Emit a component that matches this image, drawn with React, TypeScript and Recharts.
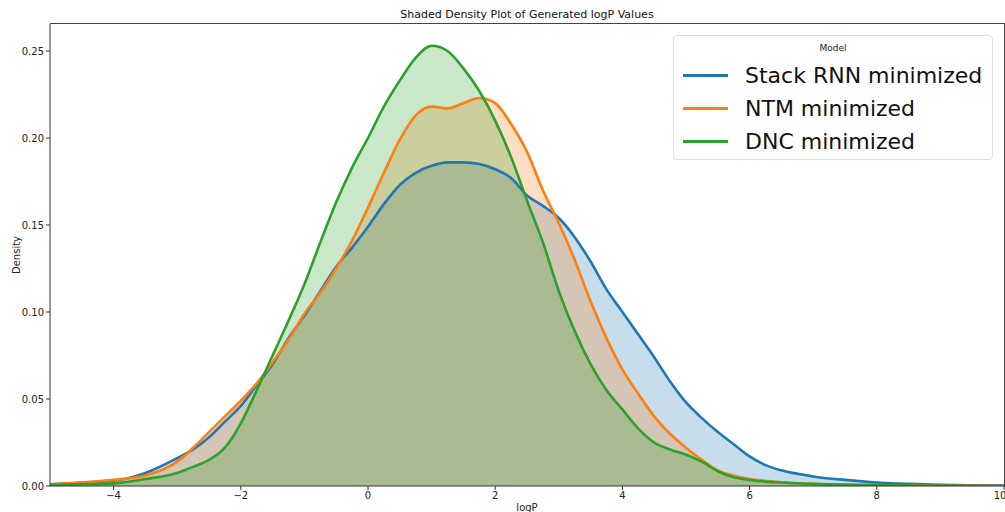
import React from "react";
import { Area, ComposedChart, Line, XAxis, YAxis } from "recharts";

const logP = [
  -5, -4.5, -4, -3.5, -3, -2.75, -2.5, -2.25, -2, -1.75, -1.5, -1.25, -1, -0.75,
  -0.5, -0.25, 0, 0.25, 0.5, 0.75, 1, 1.25, 1.5, 1.75, 2, 2.25, 2.5, 2.75, 3,
  3.25, 3.5, 3.75, 4, 4.25, 4.5, 4.75, 5, 5.25, 5.5, 5.75, 6, 6.25, 6.5, 7, 7.5,
  8, 8.5, 9, 9.5, 10,
];

const stackRnn = [
  0.001, 0.002, 0.003, 0.0075, 0.016, 0.021, 0.028, 0.037, 0.046, 0.058, 0.07,
  0.085, 0.098, 0.112, 0.126, 0.137, 0.149, 0.162, 0.173, 0.18, 0.184, 0.186,
  0.186, 0.185, 0.182, 0.177, 0.167, 0.161, 0.154, 0.143, 0.129, 0.113, 0.1,
  0.087, 0.074, 0.06, 0.048, 0.039, 0.031, 0.024, 0.017, 0.012, 0.009, 0.0055,
  0.0035, 0.002, 0.0012, 0.0007, 0.0004, 0.0002,
];

const ntm = [
  0.001, 0.002, 0.0035, 0.006, 0.014, 0.022, 0.031, 0.04, 0.049, 0.059, 0.071,
  0.084, 0.099, 0.111, 0.125, 0.141, 0.16, 0.18, 0.199, 0.213, 0.218, 0.217,
  0.22, 0.223, 0.22, 0.208, 0.192, 0.17, 0.151, 0.13, 0.106, 0.085, 0.067,
  0.053, 0.04, 0.03, 0.022, 0.015, 0.009, 0.006, 0.004, 0.003, 0.0022, 0.0012,
  0.0007, 0.0004, 0.0002, 0.0001, 0.0001, 0,
];

const dnc = [
  0.0005, 0.001, 0.0015, 0.004, 0.0075, 0.011, 0.015, 0.022, 0.036, 0.055,
  0.075, 0.095, 0.116, 0.14, 0.163, 0.183, 0.2, 0.218, 0.233, 0.246, 0.253,
  0.25, 0.24, 0.227, 0.21, 0.189, 0.164, 0.14, 0.112, 0.089, 0.07, 0.055,
  0.044, 0.033, 0.025, 0.021, 0.018, 0.014, 0.0085, 0.005, 0.0035, 0.0025,
  0.002, 0.0012, 0.0008, 0.0005, 0.0002, 0.0001, 0, 0,
];

const series = [
  { key: "stackRnn", name: "Stack RNN minimized", color: "#1f77b4" },
  { key: "ntm", name: "NTM minimized", color: "#ff7f0e" },
  { key: "dnc", name: "DNC minimized", color: "#2ca02c" },
];

const xTicks = [-4, -2, 0, 2, 4, 6, 8, 10];
const yTicks = [0, 0.05, 0.1, 0.15, 0.2, 0.25];

const data = logP.map((x, i) => ({
  logP: x,
  stackRnn: stackRnn[i],
  ntm: ntm[i],
  dnc: dnc[i],
}));

const font = "'DejaVu Sans', sans-serif";
const tickStyle = { fill: "#222", fontSize: 10, fontFamily: font };

export default function App() {
  return (
    <div
      style={{
        position: "absolute",
        left: 0,
        top: 0,
        width: 1005,
        height: 512,
        background: "#fff",
        fontFamily: font,
      }}
    >
      <div
        style={{
          position: "absolute",
          left: 50,
          width: 954,
          top: 8,
          textAlign: "center",
          fontSize: 11,
          color: "#111",
        }}
      >
        Shaded Density Plot of Generated logP Values
      </div>

      <ComposedChart
        width={1005}
        height={512}
        data={data}
        margin={{ top: 24, right: 1, bottom: 0, left: 0 }}
      >
        <XAxis
          dataKey="logP"
          type="number"
          domain={[-5, 10]}
          ticks={xTicks}
          allowDataOverflow
          height={26}
          tickSize={4}
          tick={tickStyle}
          stroke="#333"
          tickFormatter={(v: number) => String(v).replace("-", "\u2212")}
          label={{
            value: "logP",
            position: "insideBottom",
            offset: 1,
            style: { fill: "#222", fontSize: 10, fontFamily: font },
          }}
        />
        <YAxis
          type="number"
          domain={[0, 0.2655]}
          ticks={yTicks}
          allowDataOverflow
          width={50}
          tickSize={4}
          tick={tickStyle}
          stroke="#333"
          tickFormatter={(v: number) => v.toFixed(2)}
          label={{
            value: "Density",
            angle: -90,
            position: "insideLeft",
            offset: 16,
            style: { fill: "#222", fontSize: 10, fontFamily: font, textAnchor: "middle" },
          }}
        />
        {/* fills first, outlines on top like seaborn */}
        {series.map((s) => (
          <Area
            key={s.key + "-fill"}
            type="monotone"
            dataKey={s.key}
            name={s.name}
            stroke="none"
            fill={s.color}
            fillOpacity={0.25}
            dot={false}
            activeDot={false}
            isAnimationActive={false}
          />
        ))}
        {series.map((s) => (
          <Line
            key={s.key + "-line"}
            type="monotone"
            dataKey={s.key}
            name={s.name}
            stroke={s.color}
            strokeWidth={2.6}
            dot={false}
            activeDot={false}
            isAnimationActive={false}
          />
        ))}
      </ComposedChart>

      {/* top/right spines of the plot frame */}
      <div
        style={{
          position: "absolute",
          left: 50,
          top: 23,
          width: 955,
          height: 464,
          borderTop: "1.5px solid #444",
          borderRight: "1.5px solid #444",
          boxSizing: "border-box",
          pointerEvents: "none",
          zIndex: 5,
        }}
      />

      <div
        style={{
          position: "absolute",
          left: 673,
          top: 35,
          width: 320,
          height: 125,
          border: "1px solid #ddd",
          borderRadius: 4,
          background: "rgba(255,255,255,0.8)",
          boxSizing: "border-box",
          zIndex: 6,
        }}
      >
        <div
          style={{
            position: "absolute",
            left: 0,
            width: "100%",
            top: 7,
            textAlign: "center",
            fontSize: 9,
            color: "#222",
          }}
        >
          Model
        </div>
        {series.map((s, i) => (
          <div
            key={s.key}
            style={{
              position: "absolute",
              left: 9,
              top: 24 + i * 33,
              height: 30,
              display: "flex",
              alignItems: "center",
            }}
          >
            <span
              style={{
                display: "inline-block",
                width: 45,
                height: 3,
                background: s.color,
              }}
            />
            <span
              style={{
                marginLeft: 17,
                fontSize: 22,
                color: "#111",
                whiteSpace: "nowrap",
              }}
            >
              {s.name}
            </span>
          </div>
        ))}
      </div>
    </div>
  );
}
